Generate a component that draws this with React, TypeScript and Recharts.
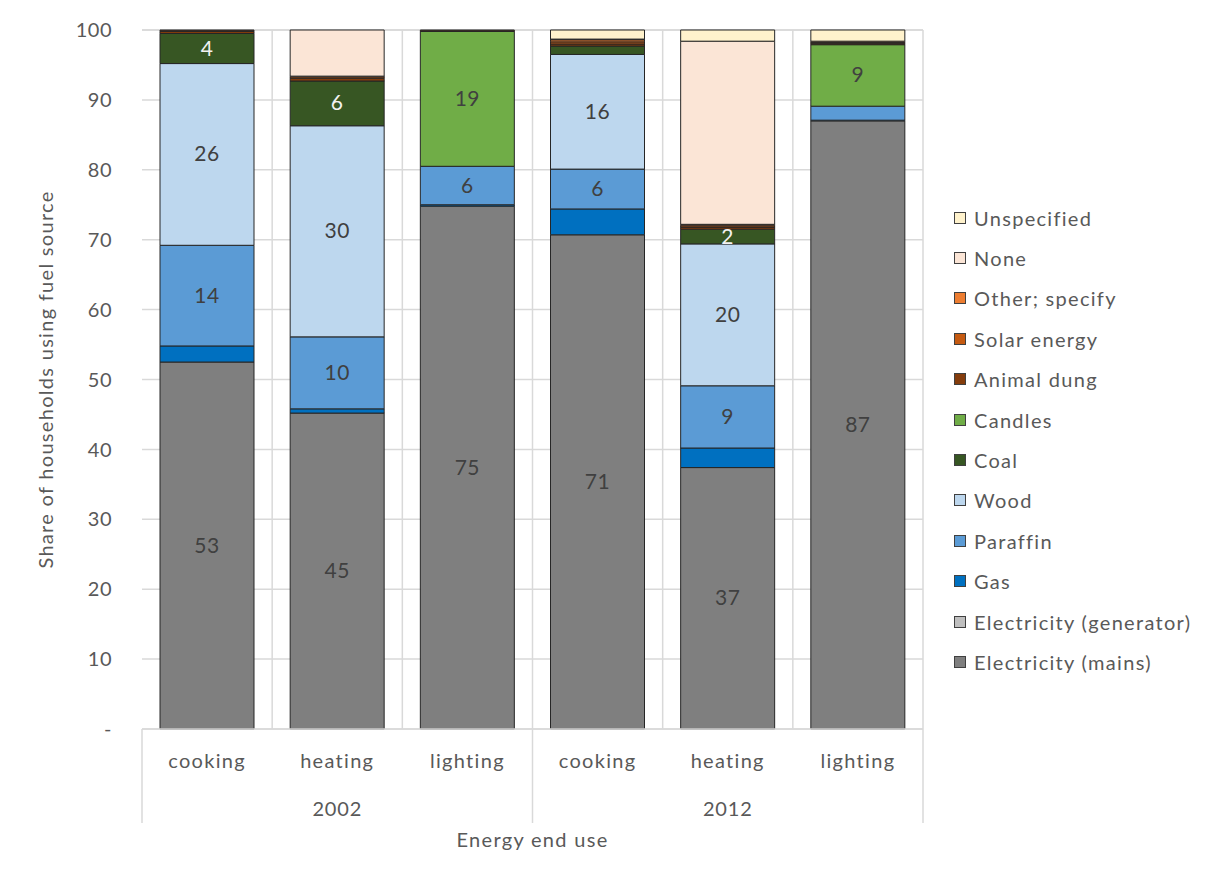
import { BarChart, Bar, XAxis, YAxis, CartesianGrid, Legend, LabelList } from "recharts";

const endUses = ["cooking", "heating", "lighting", "cooking", "heating", "lighting"];
const years = ["2002", "2002", "2002", "2012", "2012", "2012"];

// stack order, bottom to top
const seriesNames = [
    "Electricity (mains)",
    "Electricity (generator)",
    "Gas",
    "Paraffin",
    "Wood",
    "Coal",
    "Candles",
    "Animal dung",
    "Solar energy",
    "Other; specify",
    "None",
    "Unspecified",
];
const seriesColors = [
    "#7f7f7f", "#bfbfbf", "#0070c0", "#5b9bd5", "#bdd7ee", "#375623",
    "#70ad47", "#843c0c", "#c55a11", "#ed7d31", "#fbe5d6", "#fff2cc",
];

// share (%) for cooking/heating/lighting 2002, then 2012
const mains = [52.5, 45.2, 74.8, 70.7, 37.4, 87.0];
const generator = [0, 0, 0, 0, 0, 0];
const gas = [2.3, 0.6, 0.2, 3.7, 2.8, 0.1];
const paraffin = [14.4, 10.3, 5.5, 5.7, 8.9, 2.0];
const wood = [26.0, 30.2, 0, 16.4, 20.3, 0];
const coal = [4.3, 6.4, 0, 1.2, 2.1, 0];
const candles = [0, 0, 19.3, 0, 0, 8.8];
const dung = [0.3, 0.4, 0.1, 0.3, 0.3, 0.2];
const solar = [0.1, 0.2, 0, 0.3, 0.2, 0.1];
const other = [0.1, 0.1, 0.1, 0.3, 0.2, 0.2];
const none = [0, 6.6, 0, 0.1, 26.2, 0];
const unspecified = [0, 0, 0, 1.3, 1.6, 1.6];

const seriesValues = [mains, generator, gas, paraffin, wood, coal, candles, dung, solar, other, none, unspecified];
const labelledSeries = ["Electricity (mains)", "Paraffin", "Wood", "Coal", "Candles"];
const yTicks = [0, 10, 20, 30, 40, 50, 60, 70, 80, 90, 100];

const data = endUses.map((use, i) => {
    const row: any = { use, year: years[i] };
    seriesNames.forEach((name, s) => (row[name] = seriesValues[s][i]));
    return row;
});

const FONT = "Lato, 'Open Sans', sans-serif";
const TEXT = "#595959";
const GRID = "#d9d9d9";
const SPACING = 1.3;

const W = 1200;
const H = 862;
const margin = { top: 23, right: 285, left: 0, bottom: 46 };
const Y_W = 134;
const BAND = (W - margin.right - Y_W) / endUses.length;

const YearTick = (props: any) => {
    const { x, y, index, payload } = props;
    const top = y - 27 - 46;
    const lines: number[] = [];
    if (index === 0 || index === 3) lines.push(x - BAND / 2);
    if (index === endUses.length - 1) lines.push(x + BAND / 2);
    return (
        <g>
            {lines.map((lx) => (
                <line key={lx} x1={lx} x2={lx} y1={top} y2={top + 94} stroke={GRID} strokeWidth={1.5} />
            ))}
            {index % 3 === 1 && (
                <text
                    x={x}
                    y={y + 14}
                    textAnchor="middle"
                    fill={TEXT}
                    fontSize={20}
                    fontFamily={FONT}
                    letterSpacing={0.8}
                >
                    {payload.value}
                </text>
            )}
        </g>
    );
};

const makeLabel = (color: string) => (props: any) => {
    const { x, y, width, height, value } = props;
    if (value < 2.05) return null;
    return (
        <text
            x={x + width / 2}
            y={y + height / 2}
            dy={7}
            textAnchor="middle"
            fill={color}
            fontSize={21}
            fontFamily={FONT}
            letterSpacing={0.5}
        >
            {Math.round(value)}
        </text>
    );
};

const LegendBox = () => (
    <div style={{ fontFamily: FONT, fontSize: 20, color: TEXT, letterSpacing: SPACING }}>
        {[...seriesNames].reverse().map((name) => {
            const color = seriesColors[seriesNames.indexOf(name)];
            return (
                <div key={name} style={{ display: "flex", alignItems: "center", height: 40.4, whiteSpace: "nowrap" }}>
                    <span
                        style={{
                            width: 10,
                            height: 10,
                            background: color,
                            border: "1.5px solid #404040",
                            marginRight: 8,
                            display: "inline-block",
                        }}
                    />
                    {name}
                </div>
            );
        })}
    </div>
);

export default function App() {
    return (
        <div
            style={{
                marginLeft: -1,
                marginTop: -3,
                width: W + 40,
                height: H + 20,
                borderTop: `1.5px solid ${GRID}`,
                borderLeft: `1.5px solid ${GRID}`,
                boxSizing: "border-box",
            }}
        >
            <div style={{ position: "relative", width: W, height: H, marginTop: 0.5 }}>
                <BarChart width={W} height={H} data={data} margin={margin} barSize={94}>
                    <CartesianGrid
                        stroke={GRID}
                        strokeWidth={1.5}
                        verticalCoordinatesGenerator={({ offset }: any) =>
                            endUses.map((_, i) => offset.left + ((i + 1) * offset.width) / endUses.length)
                        }
                    />
                    <XAxis
                        xAxisId="use"
                        dataKey="use"
                        height={46}
                        tickLine={false}
                        tickSize={0}
                        tickMargin={25}
                        axisLine={{ stroke: GRID, strokeWidth: 1.5 }}
                        tick={{ fill: TEXT, fontSize: 20, fontFamily: FONT, letterSpacing: SPACING }}
                        interval={0}
                    />
                    <XAxis
                        xAxisId="year"
                        dataKey="year"
                        height={48}
                        tickLine={false}
                        tickSize={0}
                        tickMargin={27}
                        axisLine={false}
                        interval={0}
                        tick={<YearTick />}
                        label={{
                            value: "Energy end use",
                            position: "bottom",
                            offset: 10,
                            fill: TEXT,
                            fontSize: 20,
                            fontFamily: FONT,
                            letterSpacing: SPACING,
                        }}
                    />
                    <YAxis
                        width={Y_W}
                        domain={[0, 100]}
                        ticks={yTicks}
                        axisLine={false}
                        tickLine={false}
                        tickSize={0}
                        tickMargin={30}
                        tickFormatter={(v: number) => (v === 0 ? "-" : String(v))}
                        tick={{ fill: TEXT, fontSize: 20, fontFamily: FONT, letterSpacing: 0.5 }}
                        label={{
                            value: "Share of households using fuel source",
                            angle: -90,
                            position: "insideLeft",
                            offset: 38,
                            fill: TEXT,
                            fontSize: 20,
                            fontFamily: FONT,
                            letterSpacing: SPACING,
                            style: { textAnchor: "middle" },
                        }}
                    />
                    <Legend
                        layout="vertical"
                        align="center"
                        verticalAlign="middle"
                        content={<LegendBox />}
                        wrapperStyle={{ left: 946, top: 191, width: 260 }}
                    />
                    {seriesNames.map((name, s) => (
                        <Bar
                            key={name}
                            xAxisId="use"
                            dataKey={name}
                            stackId="a"
                            fill={seriesColors[s]}
                            stroke="#262626"
                            strokeWidth={1}
                            isAnimationActive={false}
                        >
                            {labelledSeries.includes(name) && (
                                <LabelList dataKey={name} content={makeLabel(name === "Coal" ? "#f2f2f2" : "#404040")} />
                            )}
                        </Bar>
                    ))}
                </BarChart>
            </div>
        </div>
    );
}
